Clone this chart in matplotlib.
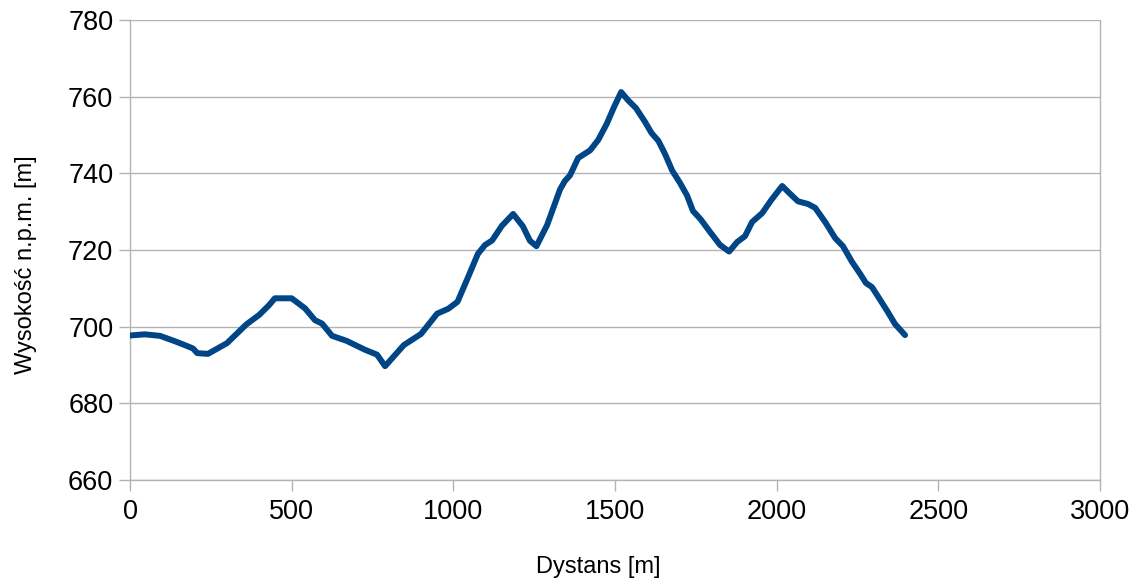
import matplotlib
matplotlib.use("Agg")
import matplotlib.pyplot as plt

distance_m = [0, 46, 93, 139, 175, 195, 208, 241, 300, 360, 400, 430, 448, 475, 500,
              541, 572, 594, 625, 670, 726, 764, 789, 847, 900, 950, 985, 1013, 1046,
              1076, 1098, 1120, 1150, 1185, 1215, 1237, 1257, 1290, 1330, 1345, 1361,
              1386, 1423, 1448, 1475, 1497, 1519, 1540, 1565, 1593, 1613, 1634, 1655,
              1677, 1701, 1723, 1741, 1765, 1794, 1825, 1853, 1878, 1902, 1924, 1955,
              1983, 2017, 2041, 2066, 2097, 2119, 2150, 2181, 2205, 2233, 2258, 2276,
              2295, 2320, 2344, 2366, 2397]
elevation_m = [697.7, 698.0, 697.6, 696.2, 695.0, 694.3, 693.1, 692.9, 695.7, 700.6, 703.1,
               705.6, 707.4, 707.4, 707.4, 704.8, 701.7, 700.8, 697.6, 696.3, 694.0,
               692.7, 689.7, 695.2, 698.1, 703.4, 704.7, 706.5, 713.0, 719.0, 721.3,
               722.5, 726.3, 729.4, 726.2, 722.4, 721.0, 726.5, 735.8, 738.0, 739.5,
               744.0, 746.0, 748.7, 753.0, 757.3, 761.2, 759.1, 757.0, 753.4, 750.5,
               748.5, 745.0, 740.7, 737.5, 734.2, 730.2, 728.0, 724.7, 721.3, 719.6,
               722.1, 723.6, 727.3, 729.6, 733.0, 736.7, 734.7, 732.7, 732.0, 731.0,
               727.3, 723.1, 721.0, 716.9, 713.8, 711.4, 710.3, 707.0, 703.8, 700.7,
               697.8]

x_ticks = [0, 500, 1000, 1500, 2000, 2500, 3000]
y_ticks = [660, 680, 700, 720, 740, 760, 780]

plt.rcParams['font.family'] = ['Liberation Sans', 'DejaVu Sans']

fig = plt.figure(figsize=(11.36, 5.85), dpi=100)
ax = fig.add_axes([130/1136, 105/585, 970/1136, 460/585])

ax.plot(distance_m, elevation_m, color='#004586', linewidth=4.3,
        solid_joinstyle='round', solid_capstyle='round', zorder=3)

ax.set_xlim(0, 3000)
ax.set_ylim(660, 780)
ax.set_xticks(x_ticks)
ax.set_yticks(y_ticks)
ax.grid(axis='y', color='#b3b3b3', linewidth=1.0)
ax.set_axisbelow(True)

ax.spines['top'].set_visible(False)
for side in ['left', 'bottom', 'right']:
    ax.spines[side].set_color('#b3b3b3')
    ax.spines[side].set_linewidth(1.0)

ax.tick_params(axis='both', direction='out', length=8, width=1.0, color='#b3b3b3',
               labelsize=19.5, labelcolor='black')
ax.tick_params(axis='x', pad=6)
ax.tick_params(axis='y', pad=4)

ax.set_xlabel('Dystans [m]', fontsize=17, va='center', ha='center')
ax.set_ylabel('Wysokość n.p.m. [m]', fontsize=17, va='center', ha='center')
ax.xaxis.set_label_coords((598 - 130) / 970, (480 - 567) / 460)
ax.yaxis.set_label_coords((26 - 130) / 970, (480 - 265) / 460)

fig.savefig('out.png', dpi=100, facecolor='white')
